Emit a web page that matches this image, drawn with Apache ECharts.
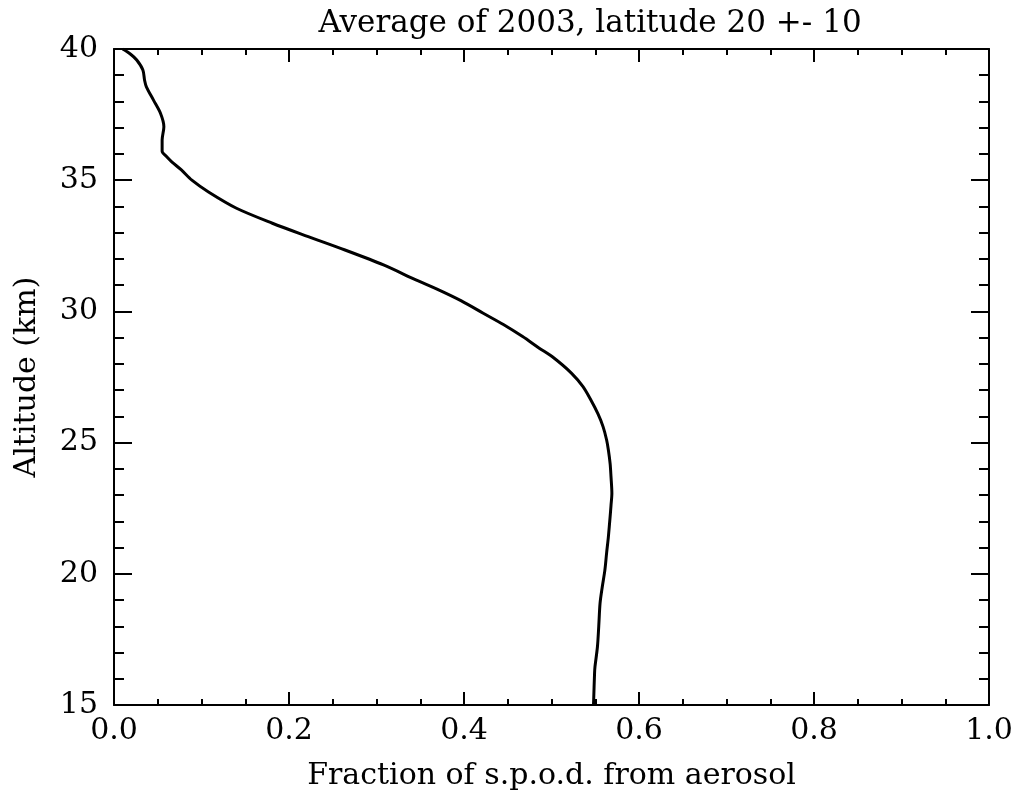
<!DOCTYPE html>
<html><head><meta charset="utf-8">
<script src="https://cdn.jsdelivr.net/npm/echarts@6/dist/echarts.min.js"></script>
<style>html,body{margin:0;padding:0;background:#fff}#c{width:1022px;height:798px}</style>
</head><body><div id="c"></div>
<script>
const titleText = "Average of 2003, latitude 20 +- 10";
const xName = "Fraction of s.p.o.d. from aerosol";
const yName = "Altitude (km)";
const altitude = [40.0,39.8,39.58,39.2,38.8,38.56,38.06,37.56,37.04,36.53,36.1,35.9,35.7,35.39,35.0,34.55,33.93,33.36,32.85,32.34,31.77,31.2,30.82,30.4,29.93,29.5,29.04,28.6,28.27,27.64,27.13,26.62,26.1,25.6,25.1,24.72,24.2,23.7,23.07,22.6,22.18,21.41,20.8,20.14,19.5,18.88,18.0,17.22,16.46,16.2,15.19,15.0];
const fraction = [0.010,0.019,0.026,0.033,0.035,0.037,0.045,0.053,0.057,0.055,0.055,0.060,0.066,0.077,0.089,0.108,0.140,0.181,0.222,0.264,0.308,0.345,0.371,0.397,0.422,0.445,0.467,0.486,0.501,0.523,0.536,0.545,0.553,0.559,0.563,0.565,0.567,0.568,0.569,0.568,0.567,0.565,0.563,0.561,0.558,0.5555,0.554,0.5525,0.5497,0.5492,0.5482,0.548];
const data = fraction.map((f,i)=>[f, altitude[i]]);
const FONT = "DejaVu Serif";
const BLACK = '#000';
const chart = echarts.init(document.getElementById('c'), null, {renderer:'canvas'});
const line = {show:true,onZero:false,lineStyle:{color:BLACK,width:2}};
const noLine = {show:false,onZero:false};
function tickAxis(type, min, max, interval, position, len, showLine){
  return {type:'value',min:min,max:max,interval:interval,position:position,
    axisLine: showLine ? line : noLine,
    splitLine:{show:false},
    axisLabel:{show:false},
    axisTick:{show:true,inside:true,length:len,lineStyle:{color:BLACK,width:2}}};
}
const xMain = tickAxis('value',0,1,0.2,'bottom',13,true);
xMain.name = xName; xMain.nameLocation='middle'; xMain.nameGap=56;
xMain.nameTextStyle = {fontFamily:FONT,fontSize:30,color:BLACK};
xMain.axisLabel = {show:true,margin:11,fontFamily:FONT,fontSize:30,color:BLACK,formatter:v=>v.toFixed(1)};
const yMain = tickAxis('value',15,40,5,'left',18,true);
yMain.name = yName; yMain.nameLocation='middle'; yMain.nameGap=72; yMain.nameRotate=90;
yMain.nameTextStyle = {fontFamily:FONT,fontSize:30,color:BLACK};
yMain.axisLabel = {show:true,margin:16,fontFamily:FONT,fontSize:30,color:BLACK};
chart.setOption({
  animation:false,
  backgroundColor:'#fff',
  title:{text:titleText,left:585,top:3,textAlign:'center',textStyle:{fontFamily:FONT,fontSize:31,fontWeight:'normal',color:BLACK}},
  grid:{left:114,right:33,top:49,bottom:93,show:false},
  xAxis:[
    xMain,
    tickAxis('value',0,1,0.2,'top',13,true),
    tickAxis('value',0,1,0.05,'bottom',6,false),
    tickAxis('value',0,1,0.05,'top',6,false)
  ],
  yAxis:[
    yMain,
    tickAxis('value',15,40,5,'right',18,true),
    tickAxis('value',15,40,1,'left',10,false),
    tickAxis('value',15,40,1,'right',10,false)
  ],
  series:[{type:'line',xAxisIndex:0,yAxisIndex:0,data:data,showSymbol:false,smooth:0.3,
    lineStyle:{color:BLACK,width:3}}]
});
</script></body></html>
